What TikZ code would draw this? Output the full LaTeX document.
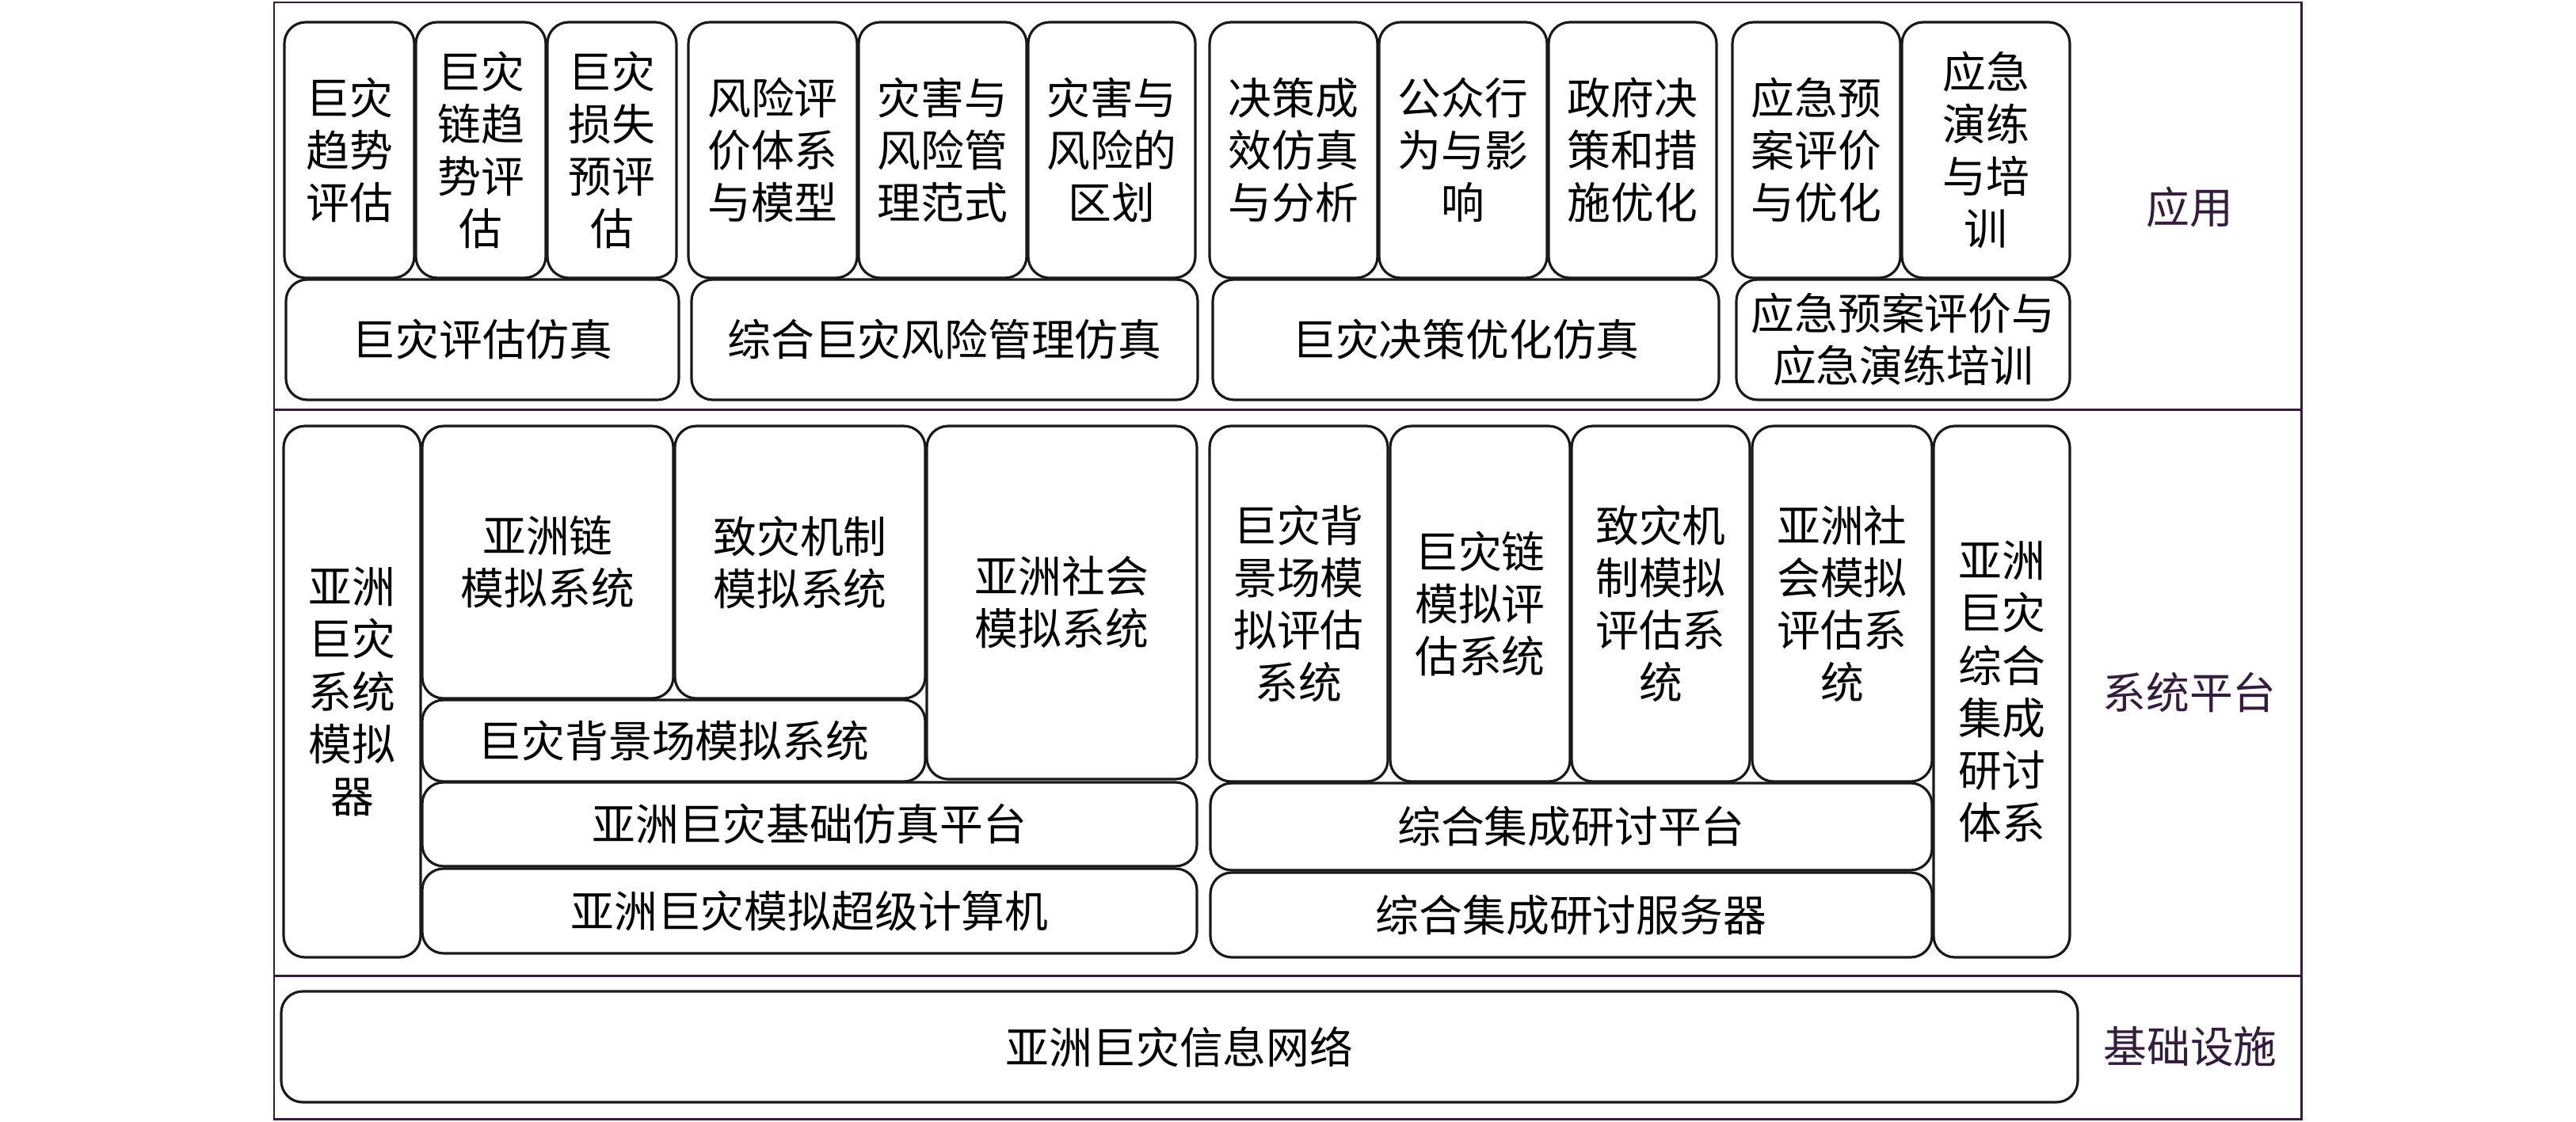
\documentclass[tikz,border=0pt]{standalone}
\usepackage{fontspec}
\setmainfont{Noto Sans CJK SC}
\usepackage{tikz}
\usetikzlibrary{positioning}
\definecolor{frame}{RGB}{52,28,60}
\tikzset{
  blk/.style={draw=black!90,line width=.9pt,rounded corners=.27cm,inner sep=0pt,align=center,
    font=\fontsize{15.6}{18.8}\selectfont},
  lbl/.style={text=frame,inner sep=0pt,font=\fontsize{15.6}{18.8}\selectfont},
}

\begin{document}
\begin{tikzpicture}
	\useasboundingbox (0,0) rectangle (32.52,-14.17);

	% outer frame and layers
	\draw[frame,line width=.85pt] (3.46,-.03) rectangle (29.05,-14.13);
	\draw[frame,line width=.85pt] (3.46,-5.17) -- (29.05,-5.17);
	\draw[frame,line width=.85pt] (3.46,-12.32) -- (29.05,-12.32);

	% application
	\node[blk,minimum width=1.64cm,minimum height=3.23cm] (a1) at (4.41,-1.895) {巨灾\\趋势\\评估};
	\node[blk,minimum width=1.64cm,minimum height=3.23cm] (a2) at (6.07,-1.895) {巨灾\\链趋\\势评\\估};
	\node[blk,minimum width=1.63cm,minimum height=3.23cm] (a3) at (7.725,-1.895) {巨灾\\损失\\预评\\估};
	\node[blk,minimum width=2.13cm,minimum height=3.23cm] (a4) at (9.755,-1.895) {风险评\\价体系\\与模型};
	\node[blk,minimum width=2.12cm,minimum height=3.23cm] (a5) at (11.90,-1.895) {灾害与\\风险管\\理范式};
	\node[blk,minimum width=2.11cm,minimum height=3.23cm] (a6) at (14.035,-1.895) {灾害与\\风险的\\区划};
	\node[blk,minimum width=2.12cm,minimum height=3.23cm] (a7) at (16.33,-1.895) {决策成\\效仿真\\与分析};
	\node[blk,minimum width=2.12cm,minimum height=3.23cm] (a8) at (18.47,-1.895) {公众行\\为与影\\响};
	\node[blk,minimum width=2.12cm,minimum height=3.23cm] (a9) at (20.61,-1.895) {政府决\\策和措\\施优化};
	\node[blk,minimum width=2.12cm,minimum height=3.23cm] (a10) at (22.93,-1.895) {应急预\\案评价\\与优化};
	\node[blk,minimum width=2.12cm,minimum height=3.23cm] (a11) at (25.07,-1.895) {应急\\演练\\与培\\训};

	\node[blk,minimum width=4.96cm,minimum height=1.52cm] (assess) at (6.09,-4.29) {巨灾评估仿真};
	\node[blk,minimum width=6.39cm,minimum height=1.52cm] (risk) at (11.925,-4.29) {综合巨灾风险管理仿真};
	\node[blk,minimum width=6.39cm,minimum height=1.52cm] (decide) at (18.505,-4.29) {巨灾决策优化仿真};
	\node[blk,minimum width=4.21cm,minimum height=1.52cm] (plan) at (24.025,-4.29) {应急预案评价与\\应急演练培训};
	\node[lbl] (app) at (27.64,-2.62) {应用};

	% system platform
	\node[blk,minimum width=1.73cm,minimum height=6.71cm] (sim) at (4.445,-8.735) {亚洲\\巨灾\\系统\\模拟\\器};
	\node[blk,minimum width=3.17cm,minimum height=3.44cm] (s1) at (6.915,-7.10) {亚洲链\\模拟系统};
	\node[blk,minimum width=3.16cm,minimum height=3.44cm] (s2) at (10.10,-7.10) {致灾机制\\模拟系统};
	\node[blk,minimum width=6.35cm,minimum height=1.03cm] (s3) at (8.505,-9.355) {巨灾背景场模拟系统};
	\node[blk,minimum width=3.41cm,minimum height=4.46cm] (s4) at (13.405,-7.61) {亚洲社会\\模拟系统};
	\node[blk,minimum width=9.78cm,minimum height=1.06cm] (base) at (10.22,-10.41) {亚洲巨灾基础仿真平台};
	\node[blk,minimum width=9.78cm,minimum height=1.07cm] (hpc) at (10.22,-11.505) {亚洲巨灾模拟超级计算机};

	\node[blk,minimum width=2.25cm,minimum height=4.49cm] (e1) at (16.395,-7.625) {巨灾背\\景场模\\拟评估\\系统};
	\node[blk,minimum width=2.27cm,minimum height=4.49cm] (e2) at (18.685,-7.625) {巨灾链\\模拟评\\估系统};
	\node[blk,minimum width=2.25cm,minimum height=4.49cm] (e3) at (20.965,-7.625) {致灾机\\制模拟\\评估系\\统};
	\node[blk,minimum width=2.27cm,minimum height=4.49cm] (e4) at (23.255,-7.625) {亚洲社\\会模拟\\评估系\\统};
	\node[blk,minimum width=9.11cm,minimum height=1.10cm] (sem) at (19.835,-10.44) {综合集成研讨平台};
	\node[blk,minimum width=9.11cm,minimum height=1.07cm] (srv) at (19.835,-11.555) {综合集成研讨服务器};
	\node[blk,minimum width=1.72cm,minimum height=6.71cm] (hall) at (25.27,-8.735) {亚洲\\巨灾\\综合\\集成\\研讨\\体系};
	\node[lbl] (plat) at (27.64,-8.75) {系统平台};

	% infrastructure
	\node[blk,minimum width=22.68cm,minimum height=1.40cm] (net) at (14.89,-13.22) {亚洲巨灾信息网络};
	\node[lbl] (infra) at (27.65,-13.22) {基础设施};

\end{tikzpicture}
\end{document}
